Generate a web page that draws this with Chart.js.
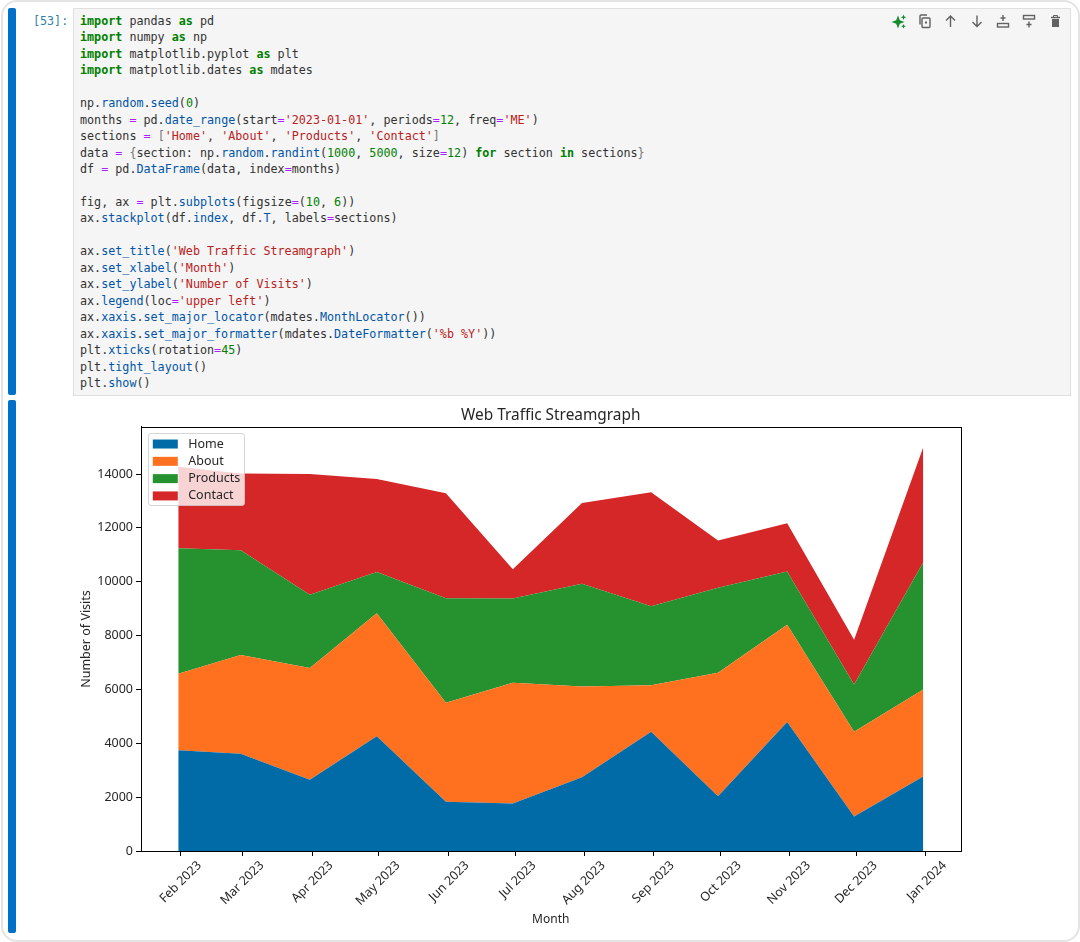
<!DOCTYPE html>
<html><head><meta charset="utf-8">
<script src="https://cdn.jsdelivr.net/npm/chart.js@4"></script>
<style>
html,body{margin:0;padding:0;background:#fff;width:1080px;height:942px;overflow:hidden}
#card{position:absolute;left:1px;top:0;width:1075px;height:938px;border:2px solid #e4e4e4;border-radius:16px;box-sizing:content-box}
.bar{position:absolute;left:8px;width:7.5px;background:#0070c8;border-radius:2px}
#prompt{position:absolute;left:33px;top:13px;font:11.7px/16.45px "DejaVu Sans Mono",monospace;color:#2f7fab;white-space:pre}
#code{position:absolute;left:73px;top:8px;width:996px;height:386px;background:#f5f5f5;border:1px solid #e0e0e0}
pre{position:absolute;left:80px;top:13px;margin:0;font:11.73px/16.45px "DejaVu Sans Mono",monospace;color:#333}
.k{color:#008000;font-weight:bold}.s{color:#ba2121}.n{color:#008000}.o{color:#aa22ff}.f{color:#0055aa}.b{color:#777}
#tools{position:absolute;left:0;top:0}
#cv{position:absolute;left:41px;top:400px;width:1020px;height:535px}
</style></head><body>
<div id="card"></div>
<div class="bar" style="top:8px;height:387px"></div>
<div class="bar" style="top:400px;height:533px"></div>
<div id="prompt">[53]:</div>
<div id="code"></div>
<pre><span class="k">import</span> pandas <span class="k">as</span> pd
<span class="k">import</span> numpy <span class="k">as</span> np
<span class="k">import</span> matplotlib.pyplot <span class="k">as</span> plt
<span class="k">import</span> matplotlib.dates <span class="k">as</span> mdates

np.<span class="f">random</span>.<span class="f">seed</span>(<span class="n">0</span>)
months <span class="o">=</span> pd.<span class="f">date_range</span>(start<span class="o">=</span><span class="s">'2023-01-01'</span>, periods<span class="o">=</span><span class="n">12</span>, freq<span class="o">=</span><span class="s">'ME'</span>)
sections <span class="o">=</span> <span class="b">[</span><span class="s">'Home'</span>, <span class="s">'About'</span>, <span class="s">'Products'</span>, <span class="s">'Contact'</span><span class="b">]</span>
data <span class="o">=</span> <span class="b">{</span>section: np.<span class="f">random</span>.<span class="f">randint</span>(<span class="n">1000</span>, <span class="n">5000</span>, size<span class="o">=</span><span class="n">12</span>) <span class="k">for</span> section <span class="k">in</span> sections<span class="b">}</span>
df <span class="o">=</span> pd.<span class="f">DataFrame</span>(data, index<span class="o">=</span>months)

fig, ax <span class="o">=</span> plt.<span class="f">subplots</span>(figsize<span class="o">=</span>(<span class="n">10</span>, <span class="n">6</span>))
ax.<span class="f">stackplot</span>(df.<span class="f">index</span>, df.<span class="f">T</span>, labels<span class="o">=</span>sections)

ax.<span class="f">set_title</span>(<span class="s">'Web Traffic Streamgraph'</span>)
ax.<span class="f">set_xlabel</span>(<span class="s">'Month'</span>)
ax.<span class="f">set_ylabel</span>(<span class="s">'Number of Visits'</span>)
ax.<span class="f">legend</span>(loc<span class="o">=</span><span class="s">'upper left'</span>)
ax.<span class="f">xaxis</span>.<span class="f">set_major_locator</span>(mdates.<span class="f">MonthLocator</span>())
ax.<span class="f">xaxis</span>.<span class="f">set_major_formatter</span>(mdates.<span class="f">DateFormatter</span>(<span class="s">'%b %Y'</span>))
plt.<span class="f">xticks</span>(rotation<span class="o">=</span><span class="n">45</span>)
plt.<span class="f">tight_layout</span>()
plt.<span class="f">show</span>()</pre>
<svg id="tools" width="1080" height="40" fill="none" stroke="#616161" stroke-width="1.4">
  <path d="M898 15.5l1.8 4.7 4.7 1.8-4.7 1.8-1.8 4.7-1.8-4.7-4.7-1.8 4.7-1.8z" fill="#1a8a2e" stroke="none"/>
  <path d="M903.5 14.5l.8 2 2 .8-2 .8-.8 2-.8-2-2-.8 2-.8zM903.5 24l.7 1.6 1.6.7-1.6.7-.7 1.6-.7-1.6-1.6-.7 1.6-.7z" fill="#1a8a2e" stroke="none"/>
  <rect x="922" y="18" width="8" height="9.5" rx="1"/><path d="M920 24.5v-8.5a1 1 0 0 1 1-1h6"/><rect x="925" y="21.5" width="2" height="2" fill="#616161" stroke="none"/>
  <path d="M950.5 27v-11M946 20.5l4.5-4.5 4.5 4.5"/>
  <path d="M977 15.5v11M972.5 22l4.5 4.5 4.5-4.5"/>
  <path d="M1003 15v6M1000.5 18h5"/><rect x="997.5" y="23.5" width="11" height="3.5"/>
  <rect x="1023.5" y="15.5" width="11" height="3.5"/><path d="M1029 21.5v6M1026.5 24.5h5"/>
  <path d="M1051 17.5h9" stroke-width="1.5"/><path d="M1053.5 17v-1.5h4v1.5" stroke-width="1"/><path d="M1052 19h7v8h-7z" fill="#616161" stroke="none"/>
</svg>
<canvas id="cv" width="1020" height="535"></canvas>
<script>
const sections = ['Home', 'About', 'Products', 'Contact'];
const dayOffsets = [0, 28, 59, 89, 120, 150, 181, 212, 242, 273, 303, 334];
const home =     [3740, 3610, 2650, 4260, 1830, 1760, 2740, 4430, 2030, 4790, 1280, 2770];
const about =    [2840, 3670, 4150, 4570, 3680, 4490, 3370, 1730, 4590, 3610, 3150, 3230];
const products = [4670, 3890, 2720, 1530, 3880, 3130, 3820, 2930, 3160, 1980, 1750, 4730];
const contact =  [3020, 2850, 4480, 3460, 3900, 1090, 3000, 4240, 1750, 1790, 1670, 4270];
const tickDays = [1, 29, 60, 90, 121, 151, 182, 213, 243, 274, 304, 335];
const tickLabels = ['Feb 2023','Mar 2023','Apr 2023','May 2023','Jun 2023','Jul 2023','Aug 2023','Sep 2023','Oct 2023','Nov 2023','Dec 2023','Jan 2024'];
const yTicks = [0, 2000, 4000, 6000, 8000, 10000, 12000, 14000];
const colors = ['#006ba6', '#ff711f', '#25922f', '#d62728'];
const seriesValues = [home, about, products, contact];

const FONT = '"Noto Sans", sans-serif';
const TXT = '#262626';
const LEGEND_W = 96, LEGEND_H = 72;

const overlay = {
  id: 'overlay',
  beforeLayout(chart) {
    const lg = chart.legend;
    lg._layers = () => [{ z: 5, draw: (ca) => {
      const c = chart.ctx;
      c.save();
      c.beginPath();
      c.roundRect(lg.left + .5, lg.top + .5, LEGEND_W, LEGEND_H, 2.5);
      c.fillStyle = 'rgba(255,255,255,0.8)'; c.fill();
      c.strokeStyle = 'rgba(204,204,204,0.8)'; c.lineWidth = 1; c.stroke();
      c.restore();
      lg.draw(ca);
    }}];
  },
  afterLayout(chart) {
    const lg = chart.legend, a = chart.chartArea;
    lg.left = a.left + 7; lg.top = a.top + 6;
    lg.right = lg.left + LEGEND_W; lg.bottom = lg.top + 200;
    lg.adjustHitBoxes();
    const tb = chart.titleBlock;
    tb.left = a.left; tb.right = a.right;
  },
  afterDatasetsDraw(chart) {
    const c = chart.ctx, a = chart.chartArea;
    c.save(); c.strokeStyle = '#000'; c.lineWidth = 1;
    c.strokeRect(Math.round(a.left) + .5, Math.round(a.top) + .5, Math.round(a.right - a.left), Math.round(a.bottom - a.top));
    c.restore();
  }
};

new Chart(document.getElementById('cv'), {
  type: 'line',
  plugins: [overlay],
  data: {
    datasets: sections.map((name, i) => ({
      label: name,
      data: seriesValues[i].map((v, j) => ({ x: dayOffsets[j], y: v })),
      backgroundColor: colors[i],
      borderColor: colors[i],
      borderWidth: 0,
      pointRadius: 0,
      tension: 0,
      fill: i === 0 ? 'origin' : '-1'
    }))
  },
  options: {
    responsive: false,
    animation: false,
    layout: { padding: { left: 34, right: 100.5, top: 0, bottom: 0 } },
    plugins: {
      tooltip: { enabled: false },
      title: {
        display: true, text: 'Web Traffic Streamgraph', color: TXT,
        font: { family: FONT, size: 15.4, weight: 'normal', lineHeight: 1.2 },
        padding: { top: 6, bottom: 2.5 }
      },
      legend: {
        display: true, position: 'chartArea', align: 'start',
        labels: {
          color: TXT, boxWidth: 25, boxHeight: 9, padding: 4.8,
          font: { family: FONT, size: 12.5 },
          generateLabels(chart) {
            return chart.data.datasets.map((d, i) => ({
              text: '\u2004' + d.label, fillStyle: d.backgroundColor, strokeStyle: d.backgroundColor,
              lineWidth: 0, hidden: false, datasetIndex: i, fontColor: TXT
            }));
          }
        }
      }
    },
    scales: {
      x: {
        type: 'linear', min: -16.7, max: 350.7,
        afterBuildTicks(s) { s.ticks = tickDays.map(v => ({ value: v })); },
        afterFit(s) { s.height = 84; },
        grid: { drawOnChartArea: false, drawTicks: true, tickLength: 5, tickColor: '#000' },
        border: { display: true, color: '#000', width: 1 },
        title: { display: true, text: 'Month', color: TXT, font: { family: FONT, size: 12 }, padding: { top: 0, bottom: 8 } },
        ticks: {
          color: TXT, font: { family: FONT, size: 12.5 }, autoSkip: false,
          minRotation: 45, maxRotation: 45, labelOffset: 19, padding: 2,
          callback(v) { return tickLabels[tickDays.indexOf(v)]; }
        }
      },
      y: {
        type: 'linear', stacked: true, min: 0, max: 15750,
        afterBuildTicks(s) { s.ticks = yTicks.map(v => ({ value: v })); },
        afterFit(s) { s.width = 66; },
        grid: { drawOnChartArea: false, drawTicks: true, tickLength: 5, tickColor: '#000' },
        border: { display: true, color: '#000', width: 1 },
        title: { display: true, text: 'Number of Visits', color: TXT, font: { family: FONT, size: 12.5 }, padding: { top: 4, bottom: 4 } },
        ticks: {
          color: TXT, font: { family: FONT, size: 12.5 }, padding: 3,
          callback(v) { return String(v); }
        }
      }
    }
  }
});
</script>
</body></html>
